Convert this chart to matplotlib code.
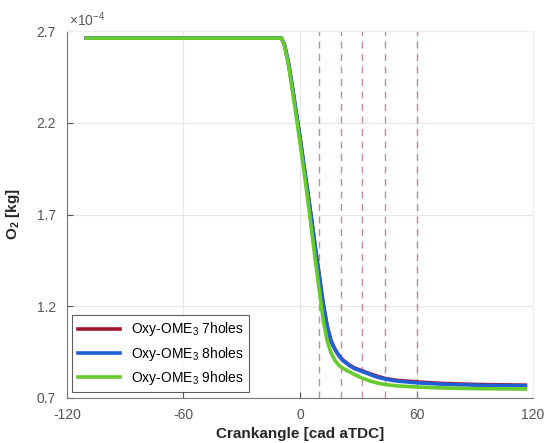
import matplotlib.pyplot as plt

plt.rcParams['font.family'] = ['Liberation Sans', 'DejaVu Sans']
plt.rcParams['mathtext.fontset'] = 'custom'
plt.rcParams['mathtext.rm'] = 'Liberation Sans'
plt.rcParams['mathtext.bf'] = 'Liberation Sans:bold'

# crank angle [cad aTDC]
crank = [-110, -20, -9.5, -8, -6, -4, -2, 0, 2, 4, 6, 8, 10, 12, 14, 16, 18,
         20, 22, 25, 28, 32, 36, 40, 44, 50, 60, 70, 80, 90, 100, 116]

# O2 mass in 1e-4 kg
o2_7holes = [2.662, 2.662, 2.662, 2.625, 2.53, 2.40, 2.26, 2.12, 1.97, 1.82, 1.67,
             1.51, 1.36, 1.21, 1.09, 1.01, 0.965, 0.932, 0.908, 0.883, 0.864, 0.848,
             0.832, 0.818, 0.806, 0.796, 0.788, 0.781, 0.777, 0.774, 0.772, 0.770]
o2_8holes = [2.662, 2.662, 2.662, 2.625, 2.53, 2.40, 2.26, 2.12, 1.97, 1.82, 1.67,
             1.51, 1.36, 1.21, 1.09, 1.01, 0.965, 0.93, 0.905, 0.88, 0.86, 0.845,
             0.828, 0.813, 0.803, 0.792, 0.783, 0.777, 0.773, 0.770, 0.768, 0.767]
o2_9holes = [2.662, 2.662, 2.662, 2.62, 2.52, 2.38, 2.24, 2.09, 1.94, 1.78, 1.61,
             1.44, 1.28, 1.12, 1.01, 0.945, 0.905, 0.878, 0.862, 0.845, 0.828, 0.808,
             0.793, 0.781, 0.773, 0.766, 0.760, 0.756, 0.753, 0.751, 0.750, 0.749]

# dashed markers
marks = [10, 21, 32, 44, 60]

xticks = [-120, -60, 0, 60, 120]
yticks = [0.7, 1.2, 1.7, 2.2, 2.7]

fig = plt.figure(figsize=(5.44, 4.43), dpi=100)
ax = fig.add_axes([0.123, 0.1016, 0.857, 0.828])

for m in marks:
    ax.axvline(m, color='#b07080', ls=(0, (5, 4)), lw=1.0, alpha=0.8, zorder=1)

ax.plot(crank, o2_7holes, color='#a2142f', lw=2.6, label='Oxy-OME$_3$ 7holes', zorder=3)
ax.plot(crank, o2_8holes, color='#1f5fd8', lw=2.6, label='Oxy-OME$_3$ 8holes', zorder=4)
ax.plot(crank, o2_9holes, color='#66cc2e', lw=2.6, label='Oxy-OME$_3$ 9holes', zorder=5)

ax.set_xlim(-120, 120)
ax.set_ylim(0.7, 2.7)
ax.set_xticks(xticks)
ax.set_yticks(yticks)
ax.set_xticklabels([str(t) for t in xticks])
ax.set_yticklabels(['0.7', '1.2', '1.7', '2.2', '2.7'])
ax.grid(True, color='#e6e6e6', lw=0.8)
ax.set_axisbelow(True)
ax.tick_params(direction='in', length=4, colors='#555555', labelsize=10, pad=7)
ax.tick_params(axis='y', pad=8)

for s in ['left', 'bottom']:
    ax.spines[s].set_color('#777777')
for s in ['top', 'right']:
    ax.spines[s].set_color('#eeeeee')

ax.text(0.005, 1.005, r'$\times10^{-4}$', transform=ax.transAxes, color='#555555',
        fontsize=10, va='bottom', ha='left')

ax.set_xlabel('Crankangle [cad aTDC]', fontsize=11, fontweight='bold', color='#262626', labelpad=4)
ax.set_ylabel(r'$\mathbf{O_2}$ [kg]', fontsize=11, fontweight='bold', color='#262626', labelpad=10)

leg = ax.legend(loc='lower left', fontsize=10, frameon=True, fancybox=False,
                edgecolor='#333333', handlelength=3.0, borderaxespad=0.4,
                labelspacing=0.45)
leg.get_frame().set_linewidth(0.8)

plt.savefig('out.png', dpi=100)
